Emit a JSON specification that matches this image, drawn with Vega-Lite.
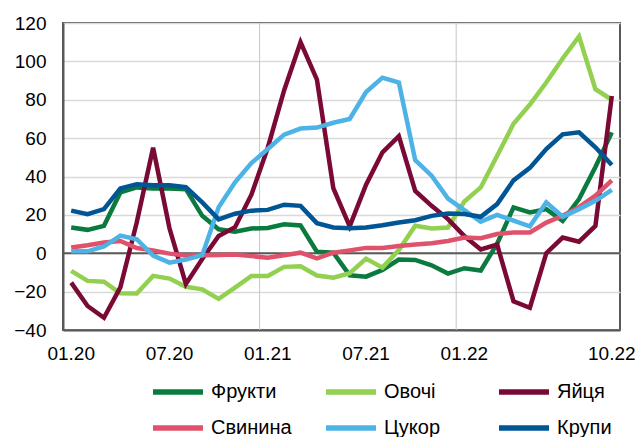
{
  "$schema": "https://vega.github.io/schema/vega-lite/v6.json",
  "width": 557,
  "height": 307,
  "autosize": {"type": "none"},
  "padding": {"left": 63, "top": 23, "right": 18, "bottom": 107},
  "config": {
    "view": {"stroke": "#595959", "strokeWidth": 2},
    "font": "Liberation Sans",
    "axis": {
      "title": null, "ticks": false, "labelFontSize": 19, "labelColor": "#000000",
      "labelOverlap": false, "labelFlush": false, "domainColor": "#595959", "domainWidth": 2
    },
    "axisX": {"labelAngle": 0, "labelAlign": "center", "labelBaseline": "top", "labelPadding": 14, "grid": false},
    "axisY": {"labelAlign": "right", "labelBaseline": "middle", "labelPadding": 17, "grid": true, "gridColor": "#d9d9d9", "gridWidth": 1.3}
  },
  "datasets": {
    "prices": [
      {"m": "01.20", "Фрукти": 13.4, "Овочі": -9.2, "Яйця": -15.3, "Свинина": 3.0, "Цукор": 1.0, "Крупи": 22.2},
      {"m": "02.20", "Фрукти": 12.2, "Овочі": -14.4, "Яйця": -27.5, "Свинина": 4.2, "Цукор": 1.0, "Крупи": 20.4},
      {"m": "03.20", "Фрукти": 14.3, "Овочі": -14.8, "Яйця": -33.6, "Свинина": 5.6, "Цукор": 3.5, "Крупи": 23.0},
      {"m": "04.20", "Фрукти": 31.7, "Овочі": -20.9, "Яйця": -17.8, "Свинина": 6.4, "Цукор": 9.2, "Крупи": 33.8},
      {"m": "05.20", "Фрукти": 34.3, "Овочі": -21.0, "Яйця": 16.0, "Свинина": 2.7, "Цукор": 7.3, "Крупи": 36.0},
      {"m": "06.20", "Фрукти": 33.8, "Овочі": -11.8, "Яйця": 55.0, "Свинина": 1.5, "Цукор": -1.2, "Крупи": 35.5},
      {"m": "07.20", "Фрукти": 33.8, "Овочі": -13.2, "Яйця": 13.0, "Свинина": -0.2, "Цукор": -4.9, "Крупи": 35.5},
      {"m": "08.20", "Фрукти": 33.4, "Овочі": -17.5, "Яйця": -16.0, "Свинина": -1.2, "Цукор": -3.3, "Крупи": 34.4},
      {"m": "09.20", "Фрукти": 19.5, "Овочі": -18.8, "Яйця": -3.0, "Свинина": -1.0, "Цукор": -1.0, "Крупи": 26.5},
      {"m": "10.20", "Фрукти": 12.5, "Овочі": -23.8, "Яйця": 9.0, "Свинина": -0.9, "Цукор": 24.0, "Крупи": 17.7},
      {"m": "11.20", "Фрукти": 11.2, "Овочі": -17.9, "Яйця": 13.6, "Свинина": -0.7, "Цукор": 37.0, "Крупи": 20.6},
      {"m": "12.20", "Фрукти": 12.9, "Овочі": -11.8, "Яйця": 30.5, "Свинина": -1.5, "Цукор": 47.0, "Крупи": 22.2},
      {"m": "01.21", "Фрукти": 13.2, "Овочі": -11.8, "Яйця": 55.0, "Свинина": -2.3, "Цукор": 54.3, "Крупи": 22.6},
      {"m": "02.21", "Фрукти": 15.1, "Овочі": -7.1, "Яйця": 85.0, "Свинина": -1.0, "Цукор": 61.8, "Крупи": 25.3},
      {"m": "03.21", "Фрукти": 14.5, "Овочі": -6.8, "Яйця": 110.0, "Свинина": 0.3, "Цукор": 65.0, "Крупи": 24.7},
      {"m": "04.21", "Фрукти": 0.8, "Овочі": -11.6, "Яйця": 90.5, "Свинина": -2.7, "Цукор": 65.5, "Крупи": 15.7},
      {"m": "05.21", "Фрукти": 0.3, "Овочі": -12.7, "Яйця": 34.0, "Свинина": 0.3, "Цукор": 68.0, "Крупи": 13.4},
      {"m": "06.21", "Фрукти": -11.5, "Овочі": -10.4, "Яйця": 14.0, "Свинина": 1.5, "Цукор": 70.0, "Крупи": 13.0},
      {"m": "07.21", "Фрукти": -12.2, "Овочі": -2.8, "Яйця": 35.7, "Свинина": 2.8, "Цукор": 84.0, "Крупи": 13.4},
      {"m": "08.21", "Фрукти": -8.7, "Овочі": -7.5, "Яйця": 52.6, "Свинина": 2.8, "Цукор": 91.5, "Крупи": 14.6},
      {"m": "09.21", "Фрукти": -3.3, "Овочі": 1.7, "Яйця": 61.0, "Свинина": 3.8, "Цукор": 89.0, "Крупи": 16.0},
      {"m": "10.21", "Фрукти": -3.5, "Овочі": 14.3, "Яйця": 32.5, "Свинина": 4.5, "Цукор": 48.5, "Крупи": 17.2},
      {"m": "11.21", "Фрукти": -6.3, "Овочі": 12.9, "Яйця": 24.7, "Свинина": 5.2, "Цукор": 40.4, "Крупи": 19.5},
      {"m": "12.21", "Фрукти": -10.6, "Овочі": 13.4, "Яйця": 17.8, "Свинина": 6.4, "Цукор": 28.5, "Крупи": 20.7},
      {"m": "01.22", "Фрукти": -7.8, "Овочі": 27.0, "Яйця": 9.0, "Свинина": 8.2, "Цукор": 22.5, "Крупи": 20.4},
      {"m": "02.22", "Фрукти": -9.0, "Овочі": 34.3, "Яйця": 2.0, "Свинина": 7.8, "Цукор": 16.5, "Крупи": 19.0},
      {"m": "03.22", "Фрукти": 5.0, "Овочі": 50.8, "Яйця": 4.5, "Свинина": 10.0, "Цукор": 20.0, "Крупи": 25.6},
      {"m": "04.22", "Фрукти": 23.9, "Овочі": 67.5, "Яйця": -25.0, "Свинина": 10.8, "Цукор": 17.0, "Крупи": 38.0},
      {"m": "05.22", "Фрукти": 21.3, "Овочі": 77.5, "Яйця": -28.4, "Свинина": 10.8, "Цукор": 14.0, "Крупи": 44.5},
      {"m": "06.22", "Фрукти": 23.0, "Овочі": 89.0, "Яйця": 0.0, "Свинина": 16.0, "Цукор": 26.5, "Крупи": 54.3},
      {"m": "07.22", "Фрукти": 16.9, "Овочі": 101.5, "Яйця": 8.2, "Свинина": 19.5, "Цукор": 19.0, "Крупи": 62.0},
      {"m": "08.22", "Фрукти": 28.2, "Овочі": 113.0, "Яйця": 6.0, "Свинина": 24.0, "Цукор": 23.0, "Крупи": 63.0},
      {"m": "09.22", "Фрукти": 45.0, "Овочі": 85.5, "Яйця": 14.3, "Свинина": 30.0, "Цукор": 27.3, "Крупи": 55.2},
      {"m": "10.22", "Фрукти": 63.0, "Овочі": 80.0, "Яйця": 82.0, "Свинина": 38.0, "Цукор": 33.0, "Крупи": 46.0}
    ],
    "yearStarts": [{"m": "01.21"}, {"m": "01.22"}],
    "zero": [{"v": 0}]
  },
  "layer": [
    {
      "data": {"name": "yearStarts"},
      "mark": {"type": "rule", "color": "#c4c8cc", "strokeWidth": 1},
      "encoding": {
        "x": {
          "field": "m", "type": "ordinal", "bandPosition": 0,
          "scale": {"type": "band", "paddingInner": 0, "paddingOuter": 0,
            "domain": ["01.20","02.20","03.20","04.20","05.20","06.20","07.20","08.20","09.20","10.20","11.20","12.20","01.21","02.21","03.21","04.21","05.21","06.21","07.21","08.21","09.21","10.21","11.21","12.21","01.22","02.22","03.22","04.22","05.22","06.22","07.22","08.22","09.22","10.22"]},
          "axis": {"values": ["01.20", "07.20", "01.21", "07.21", "01.22", "10.22"]}
        }
      }
    },
    {
      "data": {"name": "zero"},
      "mark": {"type": "rule", "color": "#595959", "strokeWidth": 2},
      "encoding": {
        "y": {
          "field": "v", "type": "quantitative",
          "scale": {"domain": [-40, 120], "nice": false},
          "axis": {"values": [-40, -20, 0, 20, 40, 60, 80, 100, 120]}
        }
      }
    },
    {
      "data": {"name": "prices"},
      "transform": [
        {"fold": ["Фрукти", "Овочі", "Яйця", "Свинина", "Цукор", "Крупи"], "as": ["s", "v"]}
      ],
      "mark": {"type": "line", "strokeWidth": 4.5},
      "encoding": {
        "x": {
          "field": "m", "type": "ordinal", "bandPosition": 0.5,
          "scale": {"type": "band", "paddingInner": 0, "paddingOuter": 0,
            "domain": ["01.20","02.20","03.20","04.20","05.20","06.20","07.20","08.20","09.20","10.20","11.20","12.20","01.21","02.21","03.21","04.21","05.21","06.21","07.21","08.21","09.21","10.21","11.21","12.21","01.22","02.22","03.22","04.22","05.22","06.22","07.22","08.22","09.22","10.22"]},
          "axis": {"values": ["01.20", "07.20", "01.21", "07.21", "01.22", "10.22"]}
        },
        "y": {
          "field": "v", "type": "quantitative",
          "scale": {"domain": [-40, 120], "nice": false},
          "axis": {"values": [-40, -20, 0, 20, 40, 60, 80, 100, 120]}
        },
        "color": {
          "field": "s", "type": "nominal",
          "scale": {
            "domain": ["Фрукти", "Овочі", "Яйця", "Свинина", "Цукор", "Крупи"],
            "range": ["#0b7a3e", "#92d050", "#7a0a35", "#e0526b", "#4db3e6", "#005595"]
          },
          "legend": {
            "orient": "none", "legendX": 105, "legendY": 359,
            "direction": "horizontal", "columns": 3, "gridAlign": "all",
            "title": null, "symbolType": "M-5,0H5", "symbolSize": 100,
            "symbolStrokeWidth": 5.5, "labelFontSize": 20, "labelOffset": 23,
            "labelColor": "#000000", "columnPadding": 23, "rowPadding": 14,
            "padding": 0, "labelLimit": 200
          }
        }
      }
    }
  ]
}
